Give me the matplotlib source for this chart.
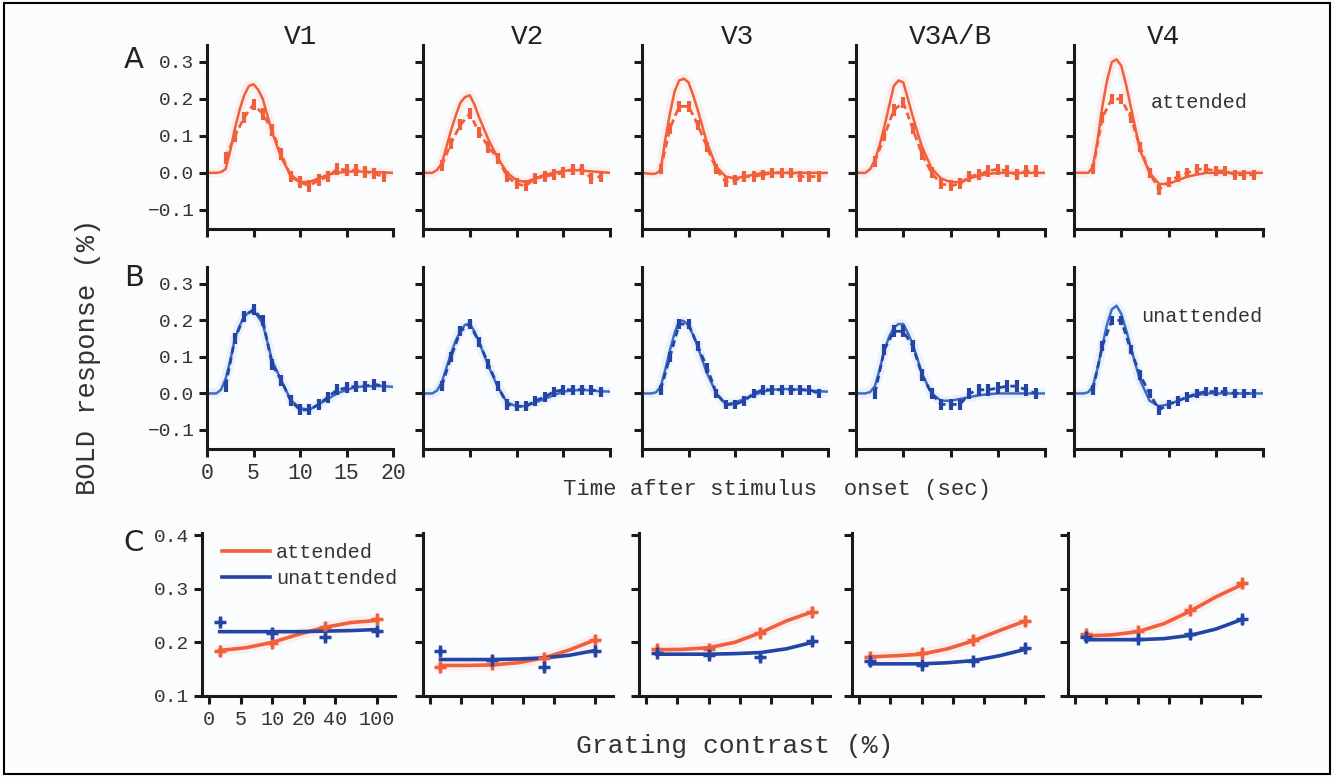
import numpy as np
import matplotlib.pyplot as plt
from matplotlib.patches import Rectangle

plt.rcParams['font.family'] = ['Liberation Mono', 'DejaVu Sans Mono']

regions = ['V1', 'V2', 'V3', 'V3A/B', 'V4']
# fitted curves are read every 0.5 s around the peak, every 1 s elsewhere
t_fit = [0, 1, 1.5, 2, 2.5, 3, 3.5, 4, 4.5, 5, 5.5, 6, 6.5, 7,
         8, 9, 10, 11, 12, 13, 14, 15, 16, 17, 18, 19, 20]
t_data = list(range(2, 20))

# row A: attended, fitted curve and measured means (t = 2..19)
att_fit_v1 = [0, 0, 0.002, 0.01, 0.06, 0.12, 0.17, 0.21, 0.235, 0.24, 0.225, 0.2, 0.155, 0.11,
              0.04, -0.005, -0.025, -0.025, -0.015, -0.005, 0.0, 0.003, 0.004, 0.003, 0.002, 0.001, 0.0]
att_data_v1 = [0.04, 0.10, 0.15, 0.185, 0.16, 0.115, 0.05, -0.01, -0.025, -0.035, -0.02, -0.01, 0.01, 0.008, 0.007, 0.003, -0.002, -0.01]
att_fit_v2 = [0, 0, 0.008, 0.025, 0.07, 0.115, 0.155, 0.19, 0.205, 0.21, 0.185, 0.15, 0.12, 0.09,
              0.04, 0.0, -0.02, -0.025, -0.015, -0.005, 0.0, 0.005, 0.008, 0.006, 0.004, 0.002, 0.0]
att_data_v2 = [0.02, 0.08, 0.13, 0.16, 0.11, 0.07, 0.04, -0.01, -0.03, -0.035, -0.015, -0.01, -0.005, 0.0, 0.01, 0.01, -0.015, -0.01]
att_fit_v3 = [0, -0.003, -0.002, 0.007, 0.09, 0.16, 0.22, 0.25, 0.255, 0.245, 0.21, 0.17, 0.125, 0.08,
              0.016, -0.01, -0.015, -0.01, -0.005, 0.0, 0, 0, 0, 0, 0, 0, 0]
att_data_v3 = [0.01, 0.12, 0.18, 0.18, 0.13, 0.07, 0.01, -0.025, -0.02, -0.01, -0.01, -0.005, 0.0, 0.0, 0.0, -0.01, -0.01, -0.01]
att_fit_v3ab = [0, 0, 0.01, 0.035, 0.075, 0.125, 0.18, 0.235, 0.25, 0.245, 0.2, 0.153, 0.11, 0.07,
                0.012, -0.015, -0.025, -0.025, -0.015, -0.008, -0.003, 0, 0, 0, 0, 0, 0]
att_data_v3ab = [0.03, 0.10, 0.17, 0.19, 0.12, 0.05, 0.0, -0.03, -0.035, -0.03, -0.01, -0.005, 0.005, 0.01, 0.005, -0.005, 0.005, 0.005]
att_fit_v4 = [0, 0, 0.0, 0.016, 0.09, 0.18, 0.25, 0.30, 0.307, 0.29, 0.24, 0.18, 0.12, 0.06,
              0.0, -0.03, -0.03, -0.02, -0.01, -0.005, 0, 0, 0, 0, 0, 0, 0]
att_data_v4 = [0.01, 0.15, 0.20, 0.20, 0.15, 0.07, 0.0, -0.045, -0.025, -0.01, 0.0, 0.01, 0.01, 0.005, 0.005, -0.005, -0.005, -0.005]
att_err = [0.016, 0.015, 0.014, 0.015, 0.014]

# row B: unattended
unatt_fit_v1 = [0, 0, 0.01, 0.04, 0.09, 0.15, 0.185, 0.21, 0.222, 0.225, 0.21, 0.19, 0.14, 0.09,
                0.035, -0.018, -0.04, -0.045, -0.03, -0.015, 0.0, 0.01, 0.017, 0.02, 0.02, 0.02, 0.018]
unatt_data_v1 = [0.02, 0.15, 0.21, 0.23, 0.20, 0.08, 0.035, -0.02, -0.045, -0.045, -0.03, -0.01, 0.01, 0.015, 0.02, 0.02, 0.025, 0.02]
unatt_fit_v2 = [0, 0, 0.008, 0.03, 0.07, 0.11, 0.145, 0.17, 0.188, 0.19, 0.17, 0.14, 0.108, 0.075,
                0.018, -0.025, -0.035, -0.035, -0.025, -0.015, -0.005, 0.005, 0.008, 0.01, 0.008, 0.006, 0.005]
unatt_data_v2 = [0.02, 0.10, 0.17, 0.19, 0.14, 0.08, 0.02, -0.03, -0.035, -0.035, -0.02, -0.01, 0.005, 0.01, 0.01, 0.01, 0.01, 0.005]
unatt_fit_v3 = [0, 0, 0.003, 0.018, 0.065, 0.118, 0.165, 0.2, 0.198, 0.186, 0.16, 0.127, 0.09, 0.055,
                0.0, -0.03, -0.025, -0.015, -0.005, 0.005, 0.01, 0.012, 0.012, 0.01, 0.008, 0.006, 0.005]
unatt_data_v3 = [0.01, 0.10, 0.19, 0.19, 0.13, 0.07, 0.0, -0.03, -0.03, -0.02, 0.0, 0.01, 0.01, 0.01, 0.01, 0.01, 0.01, 0.0]
unatt_fit_v3ab = [0, 0, 0.004, 0.02, 0.065, 0.118, 0.155, 0.18, 0.19, 0.19, 0.165, 0.135, 0.095, 0.053,
                  0.0, -0.02, -0.02, -0.015, -0.01, -0.005, -0.002, 0, 0, 0, 0, 0, 0]
unatt_data_v3ab = [0.0, 0.12, 0.17, 0.17, 0.13, 0.05, 0.0, -0.03, -0.03, -0.03, 0.0, 0.01, 0.01, 0.015, 0.02, 0.02, 0.01, 0.0]
unatt_fit_v4 = [0, 0, 0.003, 0.02, 0.07, 0.13, 0.19, 0.23, 0.24, 0.218, 0.175, 0.127, 0.08, 0.036,
                -0.02, -0.035, -0.03, -0.02, -0.01, -0.005, 0, 0, 0, 0, 0, 0, 0]
unatt_data_v4 = [0.01, 0.13, 0.20, 0.20, 0.12, 0.05, 0.0, -0.045, -0.03, -0.02, -0.01, 0.0, 0.005, 0.005, 0.005, 0.0, 0.0, 0.0]
unatt_err = [0.015, 0.014, 0.013, 0.016, 0.013]

# row C: response vs contrast
contrast = [3.16, 10, 31.6, 100]
c_fit_x = [3.16, 5.62, 10, 17.8, 31.6, 56.2, 100]
c_att_v1 = [0.183, 0.198, 0.229, 0.243]
c_unatt_v1 = [0.238, 0.218, 0.210, 0.222]
c_att_fit_v1 = [0.185, 0.190, 0.200, 0.215, 0.228, 0.237, 0.241]
c_unatt_fit_v1 = [0.220, 0.220, 0.220, 0.220, 0.221, 0.222, 0.224]
c_att_v2 = [0.155, 0.159, 0.171, 0.205]
c_unatt_v2 = [0.183, 0.168, 0.155, 0.184]
c_att_fit_v2 = [0.157, 0.157, 0.158, 0.162, 0.171, 0.186, 0.205]
c_unatt_fit_v2 = [0.168, 0.168, 0.168, 0.169, 0.171, 0.176, 0.185]
c_att_v3 = [0.188, 0.188, 0.218, 0.257]
c_unatt_v3 = [0.181, 0.176, 0.173, 0.202]
c_att_fit_v3 = [0.186, 0.187, 0.190, 0.200, 0.218, 0.240, 0.257]
c_unatt_fit_v3 = [0.178, 0.178, 0.178, 0.179, 0.181, 0.188, 0.200]
c_att_v3ab = [0.172, 0.181, 0.204, 0.240]
c_unatt_v3ab = [0.165, 0.157, 0.166, 0.190]
c_att_fit_v3ab = [0.173, 0.175, 0.178, 0.188, 0.203, 0.222, 0.240]
c_unatt_fit_v3ab = [0.160, 0.160, 0.160, 0.162, 0.166, 0.175, 0.187]
c_att_v4 = [0.215, 0.222, 0.260, 0.310]
c_unatt_v4 = [0.210, 0.207, 0.215, 0.244]
c_att_fit_v4 = [0.212, 0.214, 0.220, 0.235, 0.258, 0.285, 0.308]
c_unatt_fit_v4 = [0.205, 0.205, 0.205, 0.207, 0.213, 0.225, 0.243]

c_ticks = [2.5, 5, 10, 20, 40, 100]
c_ticklabels = ['0', '5', '10', '20', '40', '100']

att_fit = [att_fit_v1, att_fit_v2, att_fit_v3, att_fit_v3ab, att_fit_v4]
att_data = [att_data_v1, att_data_v2, att_data_v3, att_data_v3ab, att_data_v4]
unatt_fit = [unatt_fit_v1, unatt_fit_v2, unatt_fit_v3, unatt_fit_v3ab, unatt_fit_v4]
unatt_data = [unatt_data_v1, unatt_data_v2, unatt_data_v3, unatt_data_v3ab, unatt_data_v4]
c_att = [c_att_v1, c_att_v2, c_att_v3, c_att_v3ab, c_att_v4]
c_unatt = [c_unatt_v1, c_unatt_v2, c_unatt_v3, c_unatt_v3ab, c_unatt_v4]
c_att_fit = [c_att_fit_v1, c_att_fit_v2, c_att_fit_v3, c_att_fit_v3ab, c_att_fit_v4]
c_unatt_fit = [c_unatt_fit_v1, c_unatt_fit_v2, c_unatt_fit_v3, c_unatt_fit_v3ab, c_unatt_fit_v4]

ORANGE = '#f1603a'
BLUE_LIGHT = '#3a6fc4'
BLUE = '#2444a6'
BG = '#fbfcfe'

W, H = 1334, 777
fig = plt.figure(figsize=(W / 100, H / 100), dpi=100, facecolor=BG)

cols_ab = [(207, 393), (423, 610), (642, 828), (856, 1045), (1074, 1263)]
cols_c = [(202, 395), (423, 613), (639, 830), (852, 1043), (1068, 1260)]
title_x = [300, 527, 737, 950, 1163]


def add_ax(x0, x1, y0, y1):
    ax = fig.add_axes([x0 / W, 1 - y1 / H, (x1 - x0) / W, (y1 - y0) / H])
    ax.set_facecolor('none')
    for s in ['top', 'right']:
        ax.spines[s].set_visible(False)
    for s in ['left', 'bottom']:
        ax.spines[s].set_linewidth(2.2)
        ax.spines[s].set_color('#1a1a1a')
    ax.tick_params(width=2.2, length=6, color='#1a1a1a', labelcolor='#333333')
    ax.tick_params(axis='y', labelsize=14, pad=3)
    return ax


def time_panel(ax, fit, data, err, color, datacolor):
    ax.plot(t_fit, fit, color=color, lw=7, alpha=0.08, solid_capstyle='round')
    ax.plot(t_fit, fit, color=color, lw=1.8)
    ax.errorbar(t_data, data, yerr=err, color=datacolor, lw=2.0, ls=(0, (2.5, 1.5)),
                elinewidth=3, capsize=0)
    ax.set_xlim(0, 20)
    ax.set_ylim(-0.152, 0.346)
    ax.set_xticks([0, 5, 10, 15, 20])
    ax.set_yticks([-0.1, 0.0, 0.1, 0.2, 0.3])


for i in range(5):
    # row A
    ax = add_ax(cols_ab[i][0], cols_ab[i][1], 45, 229)
    time_panel(ax, att_fit[i], att_data[i], att_err[i], ORANGE, ORANGE)
    ax.set_xticklabels([])
    if i == 0:
        ax.set_yticklabels(['\u22120.1', '0.0', '0.1', '0.2', '0.3'])
    else:
        ax.set_yticklabels([])
    fig.text(title_x[i] / W, 1 - 37 / H, regions[i], fontsize=20, ha='center', va='center',
             color='#222222')

    # row B
    ax = add_ax(cols_ab[i][0], cols_ab[i][1], 267, 449)
    time_panel(ax, unatt_fit[i], unatt_data[i], unatt_err[i], BLUE_LIGHT, BLUE)
    if i == 0:
        ax.set_yticklabels(['\u22120.1', '0.0', '0.1', '0.2', '0.3'])
        ax.tick_params(axis='x', labelsize=15.5, pad=4)
    else:
        ax.set_yticklabels([])
        ax.set_xticklabels([])

    # row C
    ax = add_ax(cols_c[i][0], cols_c[i][1], 533, 696)
    ax.set_xscale('log')
    ax.plot(c_fit_x, c_att_fit[i], color=ORANGE, lw=8, alpha=0.08, solid_capstyle='round')
    ax.plot(c_fit_x, c_att_fit[i], color=ORANGE, lw=2.6, label='attended')
    ax.plot(c_fit_x, c_unatt_fit[i], color=BLUE, lw=2.6, label='unattended')
    ax.errorbar(contrast, c_att[i], yerr=0.007, fmt='+', color=ORANGE, ms=9, mew=2.5,
                elinewidth=2.5, capsize=0)
    ax.errorbar(contrast, c_unatt[i], yerr=0.007, fmt='+', color=BLUE, ms=9, mew=2.5,
                elinewidth=2.5, capsize=0)
    ax.set_xlim(2.14, 148)
    ax.set_ylim(0.1, 0.404)
    ax.set_xticks(c_ticks)
    ax.minorticks_off()
    ax.set_yticks([0.1, 0.2, 0.3, 0.4])
    if i == 0:
        ax.set_xticklabels(c_ticklabels)
        ax.tick_params(axis='x', labelsize=14.5, pad=4)
        ax.set_yticklabels(['0.1', '0.2', '0.3', '0.4'])
        leg = ax.legend(loc='upper left', bbox_to_anchor=(0.06, 0.99), frameon=False,
                        fontsize=14.5, handlelength=2.4, handletextpad=0.3,
                        labelspacing=0.35, borderaxespad=0)
        for txt in leg.get_texts():
            txt.set_color('#333333')
    else:
        ax.set_xticklabels([])
        ax.set_yticklabels([])

# figure texts
fig.text(1151 / W, 1 - 103 / H, 'attended', fontsize=14.5, va='center', ha='left', color='#333333')
fig.text(1141 / W, 1 - 316 / H, 'unattended', fontsize=14.5, va='center', ha='left', color='#333333')
fig.text(777 / W, 1 - 490 / H, 'Time after stimulus  onset (sec)', fontsize=16, ha='center',
         va='center', color='#333333')
fig.text(735 / W, 1 - 746 / H, 'Grating contrast (%)', fontsize=19, ha='center', va='center',
         color='#333333')
fig.text(88 / W, 1 - 357 / H, 'BOLD response (%)', fontsize=19.5, rotation=90, ha='center',
         va='center', color='#333333')
for letter, y in [('A', 60), ('B', 278), ('C', 543)]:
    fig.text(134 / W, 1 - y / H, letter, fontsize=21, ha='center', va='center',
             family='DejaVu Sans', color='#222222')

fig.patches.append(Rectangle((4 / W, 3 / H), 1 - 8 / W, 1 - 6 / H, transform=fig.transFigure,
                             fill=False, lw=1.5, edgecolor='black'))

fig.savefig('out.png', dpi=100, facecolor=BG)
